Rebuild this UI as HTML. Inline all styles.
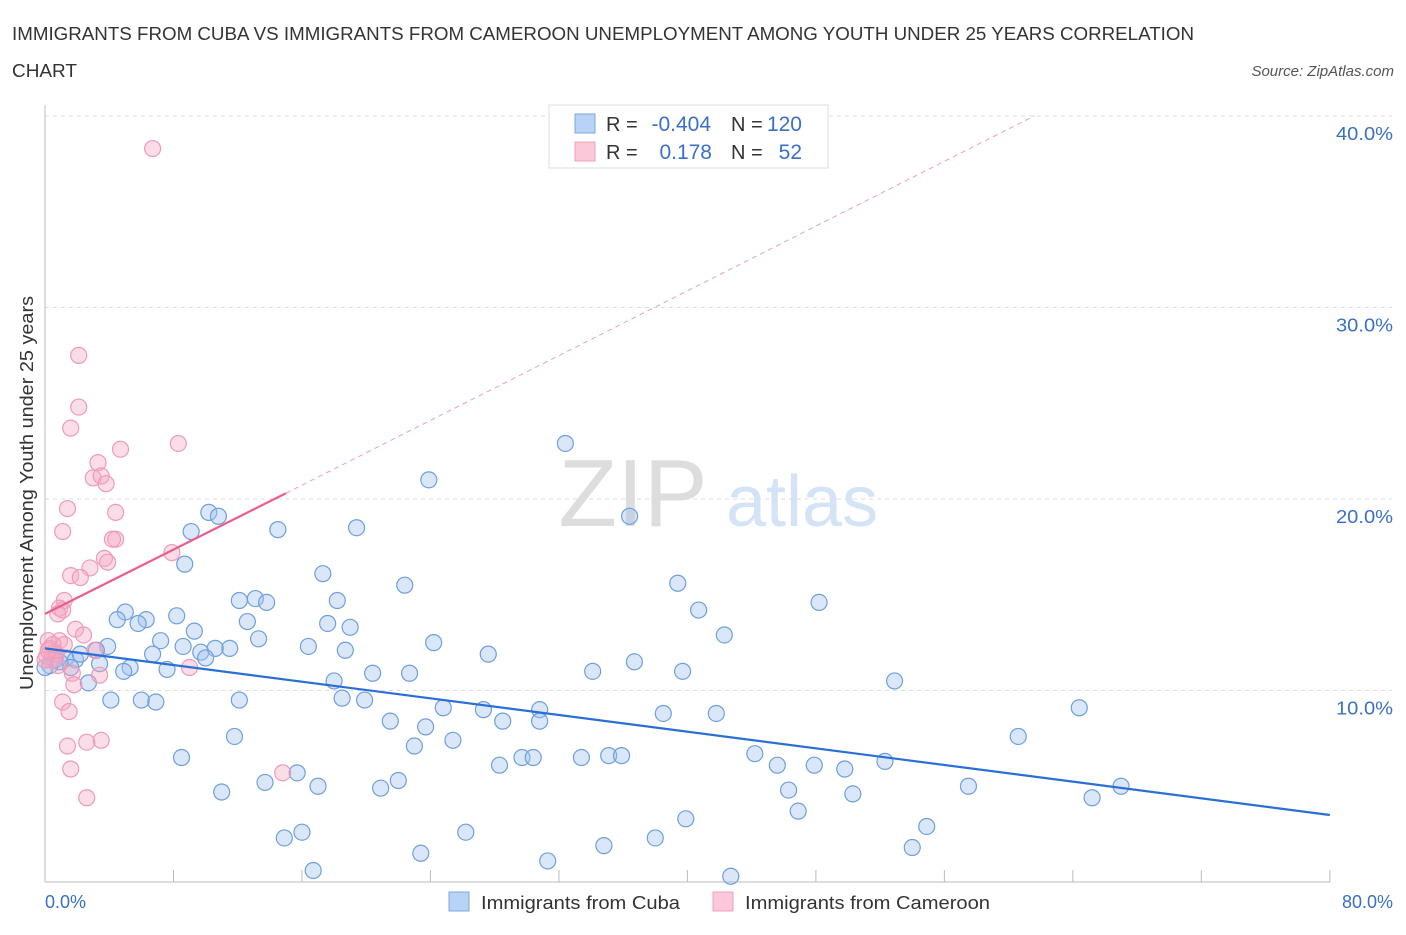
<!DOCTYPE html>
<html><head><meta charset="utf-8"><style>
body{margin:0;background:#fff;font-family:"Liberation Sans",sans-serif;}
svg text{font-family:"Liberation Sans",sans-serif;}
</style></head><body>
<svg id="chart" width="1406" height="930" viewBox="0 0 1406 930" xmlns="http://www.w3.org/2000/svg">
<text x="12" y="40" font-size="18" fill="#333" textLength="1182" lengthAdjust="spacingAndGlyphs">IMMIGRANTS FROM CUBA VS IMMIGRANTS FROM CAMEROON UNEMPLOYMENT AMONG YOUTH UNDER 25 YEARS CORRELATION</text>
<text x="12" y="77" font-size="18" fill="#333" textLength="65" lengthAdjust="spacingAndGlyphs">CHART</text>
<text x="1394" y="76" font-size="15" fill="#555" font-style="italic" text-anchor="end">Source: ZipAtlas.com</text>
<g id="grid"></g>
<g id="watermark">
<text x="633" y="526" font-size="96" fill="#ddd" font-family="Liberation Serif" text-anchor="middle">ZIP</text>
<text x="802" y="526" font-size="72" fill="#d4e3f5" text-anchor="middle">atlas</text>
</g>
<g id="axes"></g>
<g id="pts"></g>
<g id="lines"></g>
<g>
<rect x="549" y="105" width="279" height="63" fill="#fff" stroke="#ddd"/>
<rect x="575" y="114" width="20" height="19" fill="#b8d3f5" stroke="#7aa8e0"/>
<rect x="575" y="142" width="20" height="19" fill="#fac8d8" stroke="#f0a0bc"/>
<text x="606" y="131" font-size="20" fill="#333">R =</text>
<text x="711" y="131" font-size="21" fill="#3a70c8" text-anchor="end">-0.404</text>
<text x="731" y="131" font-size="20" fill="#333">N =</text>
<text x="802" y="131" font-size="21" fill="#3a70c8" text-anchor="end">120</text>
<text x="606" y="159" font-size="20" fill="#333">R =</text>
<text x="712" y="159" font-size="21" fill="#3a70c8" text-anchor="end">0.178</text>
<text x="731" y="159" font-size="20" fill="#333">N =</text>
<text x="802" y="159" font-size="21" fill="#3a70c8" text-anchor="end">52</text>
</g>
<g>
<rect x="449" y="892" width="20" height="19" fill="#b8d3f5" stroke="#7aa8e0"/>
<text x="481" y="909" font-size="18" fill="#333" textLength="199" lengthAdjust="spacingAndGlyphs">Immigrants from Cuba</text>
<rect x="713" y="892" width="20" height="19" fill="#fac8d8" stroke="#f0a0bc"/>
<text x="745" y="909" font-size="18" fill="#333" textLength="245" lengthAdjust="spacingAndGlyphs">Immigrants from Cameroon</text>
</g>
<text transform="translate(33,493) rotate(-90)" font-size="18" fill="#333" text-anchor="middle" textLength="394" lengthAdjust="spacingAndGlyphs">Unemployment Among Youth under 25 years</text>
</svg>
<script>
const yTicks=[10,20,30,40];
const yTickLabels=["10.0%","20.0%","30.0%","40.0%"];
const xTickVals=[0,8,16,24,32,40,48,56,64,72,80];
const cubaX=[32.4,23.9,36.4,10.2,10.8,9.1,14.5,19.4,8.7,17.3,22.4,39.4,12.1,13.1,13.8,18.2,48.2,40.7,5.0,4.5,6.3,5.8,8.2,12.6,17.6,19.0,9.3,42.3,13.3,7.2,24.2,3.9,9.7,11.5,10.6,16.4,18.7,27.6,6.7,10.0,8.6,3.2,36.7,1.3,1.9,0.9,3.4,5.3,4.9,7.6,34.1,39.7,20.4,22.7,18.0,52.9,2.7,4.1,6.0,6.9,12.1,18.5,19.9,24.8,27.3,30.8,38.5,41.8,64.4,21.5,23.7,28.5,30.8,11.8,60.6,25.4,23.0,8.5,29.7,30.4,28.3,33.4,35.1,35.9,44.2,45.6,47.9,49.8,52.3,15.7,13.7,22.0,20.9,17.0,11.0,46.3,50.3,57.5,65.2,67.0,46.9,39.9,54.9,16.0,14.9,26.2,38.0,34.8,23.4,31.3,54.0,16.7,42.7,0.3,0.6,0,2.2,1.6];
const cubaY=[22.9,21.0,19.1,19.3,19.1,18.3,18.4,18.5,16.6,16.1,15.5,15.6,14.7,14.8,14.6,14.7,14.6,14.2,14.1,13.7,13.7,13.5,13.9,13.6,13.5,13.3,13.1,12.9,12.7,12.6,12.5,12.3,12.0,12.2,12.2,12.3,12.1,11.9,11.9,11.7,12.3,12.1,11.5,11.7,11.6,11.5,11.4,11.2,11.0,11.1,11.0,11.0,10.9,10.9,10.5,10.5,10.4,9.5,9.5,9.4,9.5,9.6,9.5,9.1,9.0,9.0,8.8,8.8,9.1,8.4,8.1,8.4,8.4,7.6,7.6,7.4,7.1,6.5,6.5,6.5,6.1,6.5,6.6,6.6,6.7,6.1,6.1,5.9,6.3,5.7,5.2,5.3,4.9,5.0,4.7,4.8,4.6,5.0,4.4,5.0,3.7,3.3,2.9,2.6,2.3,2.6,2.3,1.9,1.5,1.1,1.8,0.6,0.3,11.3,11.6,11.2,11.9,11.2];
const camX=[6.7,2.1,2.1,1.6,8.3,4.7,3.3,3.0,3.5,3.8,1.4,4.4,1.1,4.4,4.2,7.9,3.7,3.9,2.8,1.6,2.2,1.2,0.9,1.1,0.8,1.9,2.4,0.9,0.2,1.2,0.3,3.1,0.6,0.1,0.4,0,9.0,1.7,3.4,1.8,1.1,1.5,1.4,2.6,3.5,1.6,14.8,2.6,0.7,0.2,0.8,0.5];
const camY=[38.3,27.5,24.8,23.7,22.9,22.6,21.9,21.1,21.2,20.8,19.5,19.3,18.3,17.9,17.9,17.2,16.9,16.7,16.4,16.0,15.9,14.7,14.3,14.2,14.0,13.2,12.9,12.6,12.6,12.4,12.2,12.1,12.0,11.8,11.6,11.6,11.2,10.9,10.8,10.3,9.4,8.9,7.1,7.3,7.4,5.9,5.7,4.4,11.9,12.1,11.3,12.4];
const cubaTrend=[[0,12.2],[80,3.5]];
const camTrend=[[0,14.0],[15,20.3]];
const camTrendExt=[[15,20.3],[61.6,40]];

const NS="http://www.w3.org/2000/svg";
const X=v=>45+v*16.06, Y=v=>882-v*19.15;
function mk(tag,attrs,parent){const e=document.createElementNS(NS,tag);for(const k in attrs)e.setAttribute(k,attrs[k]);document.getElementById(parent).appendChild(e);return e;}
yTicks.forEach((t,i)=>{
 const g=mk('line',{x1:45,x2:1392,y1:Y(t),y2:Y(t),stroke:'#ddd','stroke-dasharray':'4,4'},'grid');
 
 
 const l=mk('text',{x:1393,y:Y(t)+24,'font-size':18,fill:'#3a70c8','text-anchor':'end',textLength:57,lengthAdjust:'spacingAndGlyphs'},'axes');
 l.textContent=yTickLabels[i];
 
 
});
const ax=mk('line',{x1:45,x2:1330,y1:882,y2:882,stroke:'#bbb'},'axes');


const ay=mk('line',{x1:45,x2:45,y1:105,y2:882,stroke:'#bbb'},'axes');


xTickVals.forEach(t=>{
 const e=mk('line',{x1:X(t),x2:X(t),y1:882,y2:870,stroke:'#bbb'},'axes');
 
 
});
[[0,"0.0%","start",45],[80,"80.0%","end",1393]].forEach(a=>{
 const e=mk('text',{x:a[3],y:908,'font-size':18,fill:'#3a70c8','text-anchor':a[2]},'axes');
 e.textContent=a[1];
 
 
});
cubaX.forEach((v,i)=>{
 const c=mk('circle',{cx:X(v),cy:Y(cubaY[i]),r:8,fill:'rgba(160,196,240,0.4)',stroke:'#6f9fdc','stroke-width':1.2},'pts');
 
 
});
camX.forEach((v,i)=>{
 const c=mk('circle',{cx:X(v),cy:Y(camY[i]),r:8,fill:'rgba(245,170,195,0.4)',stroke:'#ef9ab8','stroke-width':1.2},'pts');
 
 
});
const l1=mk('line',{x1:X(cubaTrend[0][0]),y1:Y(cubaTrend[0][1]),x2:X(cubaTrend[1][0]),y2:Y(cubaTrend[1][1]),stroke:'#2a6fd6','stroke-width':2.2},'lines');


const l2=mk('line',{x1:X(camTrend[0][0]),y1:Y(camTrend[0][1]),x2:X(camTrend[1][0]),y2:Y(camTrend[1][1]),stroke:'#e8608f','stroke-width':2.2},'lines');


const l3=mk('line',{x1:X(camTrendExt[0][0]),y1:Y(camTrendExt[0][1]),x2:X(camTrendExt[1][0]),y2:Y(camTrendExt[1][1]),stroke:'#eaa0bb','stroke-width':1,'stroke-dasharray':'5,4'},'lines');


</script>
</body></html>
